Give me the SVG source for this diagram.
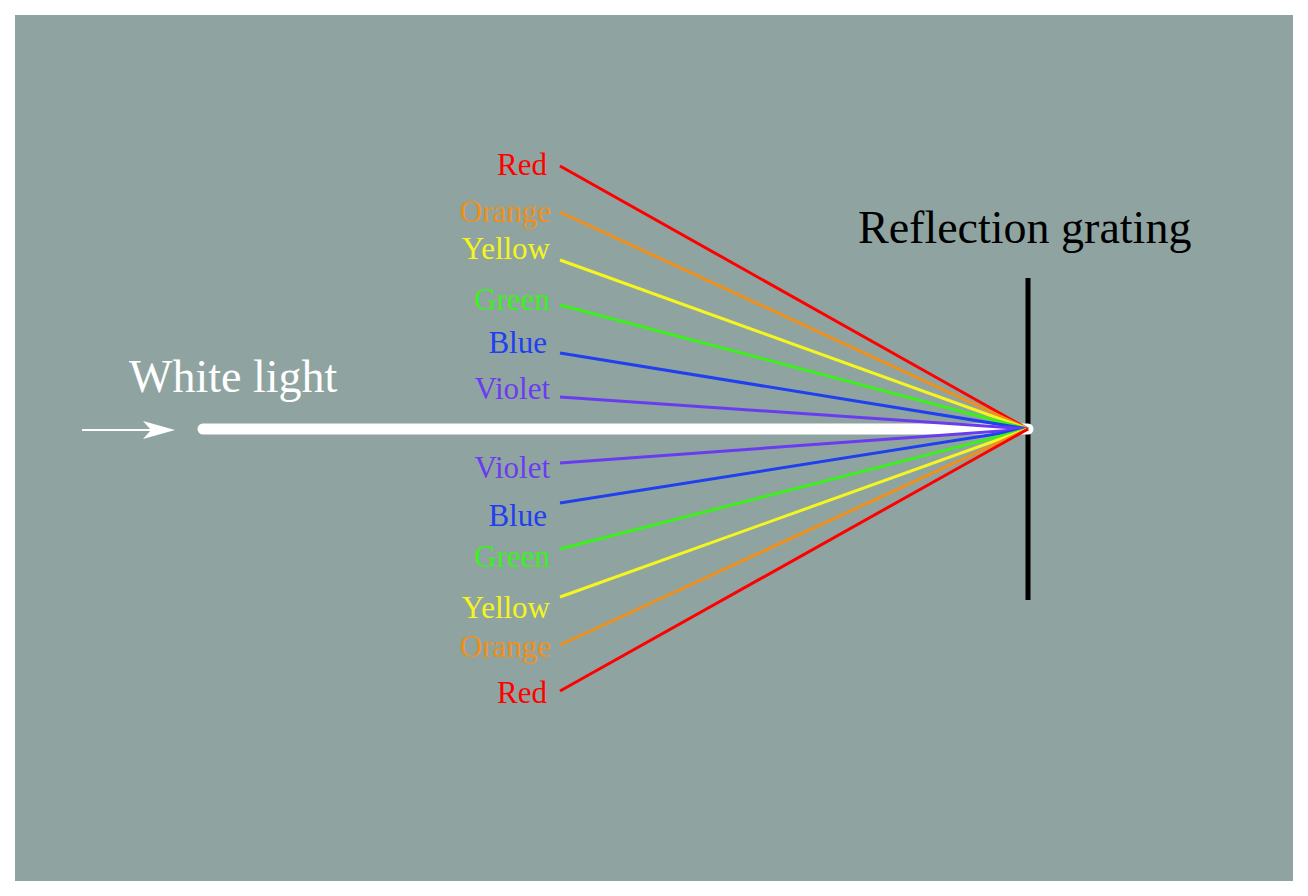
<svg xmlns="http://www.w3.org/2000/svg" width="1308" height="896" viewBox="0 0 1308 896">
<style>
text{font-family:"Liberation Serif",serif}
.l{font-size:31px;text-anchor:end}
.r{stroke-width:3;fill:none}
</style>
<rect width="1308" height="896" fill="#fff"/>
<rect x="15" y="15" width="1278" height="866" fill="#8fa4a1"/>
<g id="grating"><line x1="1028" y1="278" x2="1028" y2="600" stroke="#000" stroke-width="5"/></g>
<g id="beam"><line x1="203" y1="429" x2="1028" y2="429" stroke="#fff" stroke-width="11" stroke-linecap="round"/></g>
<g id="connectors">
<line x1="82" y1="430" x2="170" y2="430" stroke="#fff" stroke-width="2"/>
<path d="M175,430 L143,421 L151,430 L143,439 Z" fill="#fff"/>
<line class="r" x1="560" y1="166" x2="1028" y2="429" stroke="#f00"/>
<line class="r" x1="560" y1="212" x2="1028" y2="429" stroke="#f0901a"/>
<line class="r" x1="560" y1="260" x2="1028" y2="429" stroke="#f5f520"/>
<line class="r" x1="560" y1="305" x2="1028" y2="429" stroke="#3cf01c"/>
<line class="r" x1="560" y1="353" x2="1028" y2="429" stroke="#2040f0"/>
<line class="r" x1="560" y1="397" x2="1028" y2="429" stroke="#6a3cf0"/>
<line class="r" x1="560" y1="463" x2="1028" y2="429" stroke="#6a3cf0"/>
<line class="r" x1="560" y1="503" x2="1028" y2="429" stroke="#2040f0"/>
<line class="r" x1="560" y1="549" x2="1028" y2="429" stroke="#3cf01c"/>
<line class="r" x1="560" y1="597" x2="1028" y2="429" stroke="#f5f520"/>
<line class="r" x1="560" y1="645" x2="1028" y2="429" stroke="#f0901a"/>
<line class="r" x1="560" y1="691" x2="1028" y2="429" stroke="#f00"/>
</g>
<g id="labels">
<text class="l" x="547" y="175" fill="#f00">Red</text>
<text class="l" x="551" y="222" fill="#f0901a">Orange</text>
<text class="l" x="550" y="259" fill="#f5f520">Yellow</text>
<text class="l" x="550" y="310" fill="#3cf01c">Green</text>
<text class="l" x="547" y="353" fill="#2040f0">Blue</text>
<text class="l" x="550" y="399" fill="#6a3cf0">Violet</text>
<text class="l" x="550" y="478" fill="#6a3cf0">Violet</text>
<text class="l" x="547" y="526" fill="#2040f0">Blue</text>
<text class="l" x="550" y="567" fill="#3cf01c">Green</text>
<text class="l" x="550" y="618" fill="#f5f520">Yellow</text>
<text class="l" x="551" y="657" fill="#f0901a">Orange</text>
<text class="l" x="547" y="703" fill="#f00">Red</text>
<text x="129" y="392" font-size="46" fill="#fff">White light</text>
<text x="858" y="243" font-size="46" fill="#000">Reflection grating</text>
</g>
</svg>
